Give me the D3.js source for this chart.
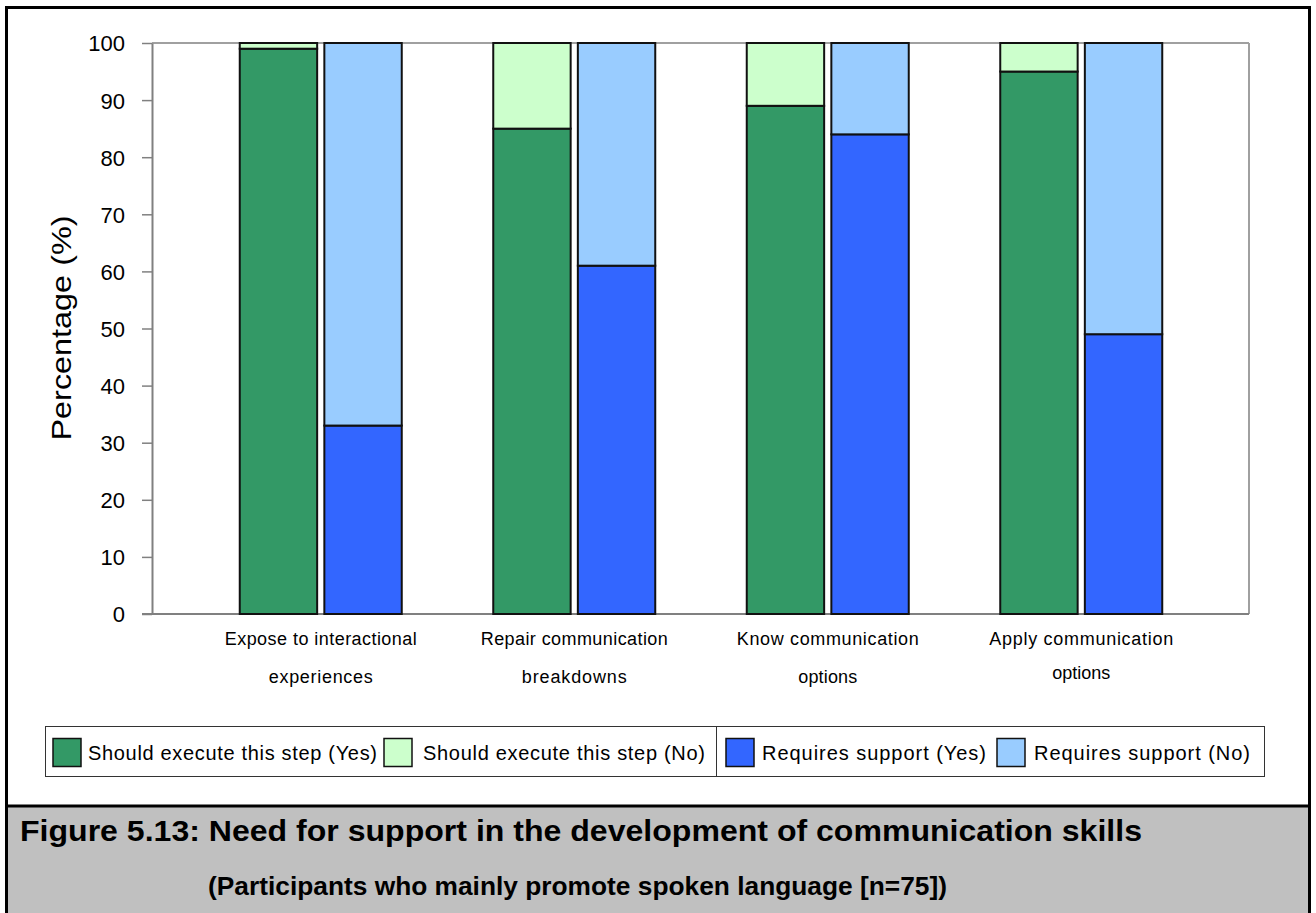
<!DOCTYPE html>
<html>
<head>
<meta charset="utf-8">
<script src="https://cdn.jsdelivr.net/npm/d3@7"></script>
<style>
  html, body { margin: 0; padding: 0; background: #fff; }
  svg { display: block; font-family: "Liberation Sans", Arial, sans-serif; }
</style>
</head>
<body>
<svg id="chart" width="1316" height="913"></svg>
<script>
// ---- data ----
const categories = ["Expose to interactional experiences", "Repair communication breakdowns", "Know communication options", "Apply communication options"];
const categoryLines = [["Expose to interactional", "experiences"], ["Repair communication", "breakdowns"], ["Know communication", "options"], ["Apply communication", "options"]];
const executeYes = [99, 85, 89, 95];
const executeNo = [1, 15, 11, 5];
const supportYes = [33, 61, 84, 49];
const supportNo = [67, 39, 16, 51];
const yTicks = [0, 10, 20, 30, 40, 50, 60, 70, 80, 90, 100];
const legendLabels = ["Should execute this step (Yes)", "Should execute this step (No)", "Requires support (Yes)", "Requires support (No)"];
const yTitle = "Percentage (%)";
const captionTitle = "Figure 5.13: Need for support in the development of communication skills";
const captionSub = "(Participants who mainly promote spoken language [n=75])";

const colors = ["#339966", "#CCFFCC", "#3366FF", "#99CCFF"];

const svg = d3.select("#chart");
svg.append("rect").attr("width", 1316).attr("height", 913).attr("fill", "#fff");

// caption band
svg.append("rect").attr("x", 6).attr("y", 806).attr("width", 1304).attr("height", 110).attr("fill", "#c0c0c0");

// plot geometry
const plot = { left: 152, right: 1249, top: 43, bottom: 614 };
const y = d3.scaleLinear().domain([0, 100]).range([plot.bottom, plot.top]);
const x = d3.scaleBand().domain(categories).range([194, 1208]).padding(0);
const sub = d3.scaleBand().domain(["execute", "support"])
  .range([x.bandwidth() / 2 - 81, x.bandwidth() / 2 + 81]).paddingInner(0.085);

// plot frame (top & right)
svg.append("line").attr("x1", plot.left).attr("x2", plot.right).attr("y1", plot.top).attr("y2", plot.top)
  .attr("stroke", "#a0a0a0").attr("stroke-width", 2);
svg.append("line").attr("x1", plot.right).attr("x2", plot.right).attr("y1", plot.top).attr("y2", plot.bottom)
  .attr("stroke", "#a0a0a0").attr("stroke-width", 2);
svg.append("line").attr("x1", plot.left - 10).attr("x2", plot.right).attr("y1", plot.bottom).attr("y2", plot.bottom)
  .attr("stroke", "#808080").attr("stroke-width", 2);

// y axis
const yAxis = svg.append("g").attr("transform", `translate(${plot.left},0)`)
  .call(d3.axisLeft(y).tickValues(yTicks).tickSize(10).tickPadding(17).tickSizeOuter(0));
yAxis.select(".domain").attr("stroke", "#808080").attr("stroke-width", 2);
yAxis.selectAll(".tick line").attr("stroke", "#808080").attr("stroke-width", 1.5);
yAxis.selectAll(".tick text").attr("font-size", 22).attr("fill", "#000")
  .attr("font-family", "'Liberation Sans', Arial, sans-serif").attr("dy", "0.36em");

// y title
svg.append("text").attr("transform", `translate(71,328) rotate(-90)`)
  .attr("text-anchor", "middle").attr("font-size", 28).attr("fill", "#000")
  .attr("textLength", 225).attr("lengthAdjust", "spacingAndGlyphs").text(yTitle);

// bars
const rows = categories.map((c, i) => ({
  cat: c,
  bars: [
    { key: "execute", segs: [{ y0: 0, y1: executeYes[i], c: colors[0] }, { y0: executeYes[i], y1: executeYes[i] + executeNo[i], c: colors[1] }] },
    { key: "support", segs: [{ y0: 0, y1: supportYes[i], c: colors[2] }, { y0: supportYes[i], y1: supportYes[i] + supportNo[i], c: colors[3] }] }
  ]
}));

const g = svg.selectAll(".grp").data(rows).enter().append("g")
  .attr("transform", d => `translate(${x(d.cat)},0)`);
g.selectAll(".bar").data(d => d.bars).enter().append("g")
  .selectAll("rect").data(b => b.segs.map(s => ({ ...s, key: b.key }))).enter().append("rect")
  .attr("x", s => sub(s.key))
  .attr("width", sub.bandwidth())
  .attr("y", s => y(s.y1))
  .attr("height", s => y(s.y0) - y(s.y1))
  .attr("fill", s => s.c)
  .attr("stroke", "#111").attr("stroke-width", 2);

// category labels
const catWidths = [[192, 104], [187, 105], [182, 59], [184, 58]];
g.each(function (d, i) {
  const cx = x.bandwidth() / 2;
  const lines = categoryLines[i];
  const t = d3.select(this);
  lines.forEach((ln, j) => {
    t.append("text").attr("x", cx).attr("y", j === 0 ? 645 : (i === 3 ? 679 : 683))
      .attr("text-anchor", "middle").attr("font-size", 18).attr("fill", "#000")
      .attr("textLength", catWidths[i][j]).attr("lengthAdjust", "spacing")
      .text(ln);
  });
});

// legend
const lg = svg.append("g");
lg.append("rect").attr("x", 45.5).attr("y", 726.5).attr("width", 1219).attr("height", 50)
  .attr("fill", "#fff").attr("stroke", "#333").attr("stroke-width", 1);
lg.append("line").attr("x1", 716.5).attr("x2", 716.5).attr("y1", 726.5).attr("y2", 776.5)
  .attr("stroke", "#333").attr("stroke-width", 1);
const legendPos = [{ sx: 53, tx: 88, tw: 289 }, { sx: 384, tx: 423, tw: 282 }, { sx: 726, tx: 762, tw: 224 }, { sx: 997, tx: 1034, tw: 216 }];
legendLabels.forEach((lab, i) => {
  lg.append("rect").attr("x", legendPos[i].sx).attr("y", 738.5).attr("width", 28).attr("height", 28)
    .attr("fill", colors[i]).attr("stroke", "#111").attr("stroke-width", 1.5);
  lg.append("text").attr("x", legendPos[i].tx).attr("y", 760).attr("font-size", 20).attr("fill", "#000")
    .attr("textLength", legendPos[i].tw).attr("lengthAdjust", "spacing").text(lab);
});

// caption
svg.append("text").attr("x", 20).attr("y", 841).attr("font-size", 30).attr("font-weight", "bold")
  .attr("fill", "#000").attr("textLength", 1122).attr("lengthAdjust", "spacingAndGlyphs").text(captionTitle);
svg.append("text").attr("x", 208).attr("y", 895).attr("font-size", 26).attr("font-weight", "bold")
  .attr("fill", "#000").attr("textLength", 739).attr("lengthAdjust", "spacingAndGlyphs").text(captionSub);

// outer frame
svg.append("line").attr("x1", 6).attr("x2", 1310).attr("y1", 806).attr("y2", 806).attr("stroke", "#000").attr("stroke-width", 3);
svg.append("rect").attr("x", 6.5).attr("y", 7.5).attr("width", 1303).attr("height", 920)
  .attr("fill", "none").attr("stroke", "#000").attr("stroke-width", 3);
</script>
</body>
</html>
